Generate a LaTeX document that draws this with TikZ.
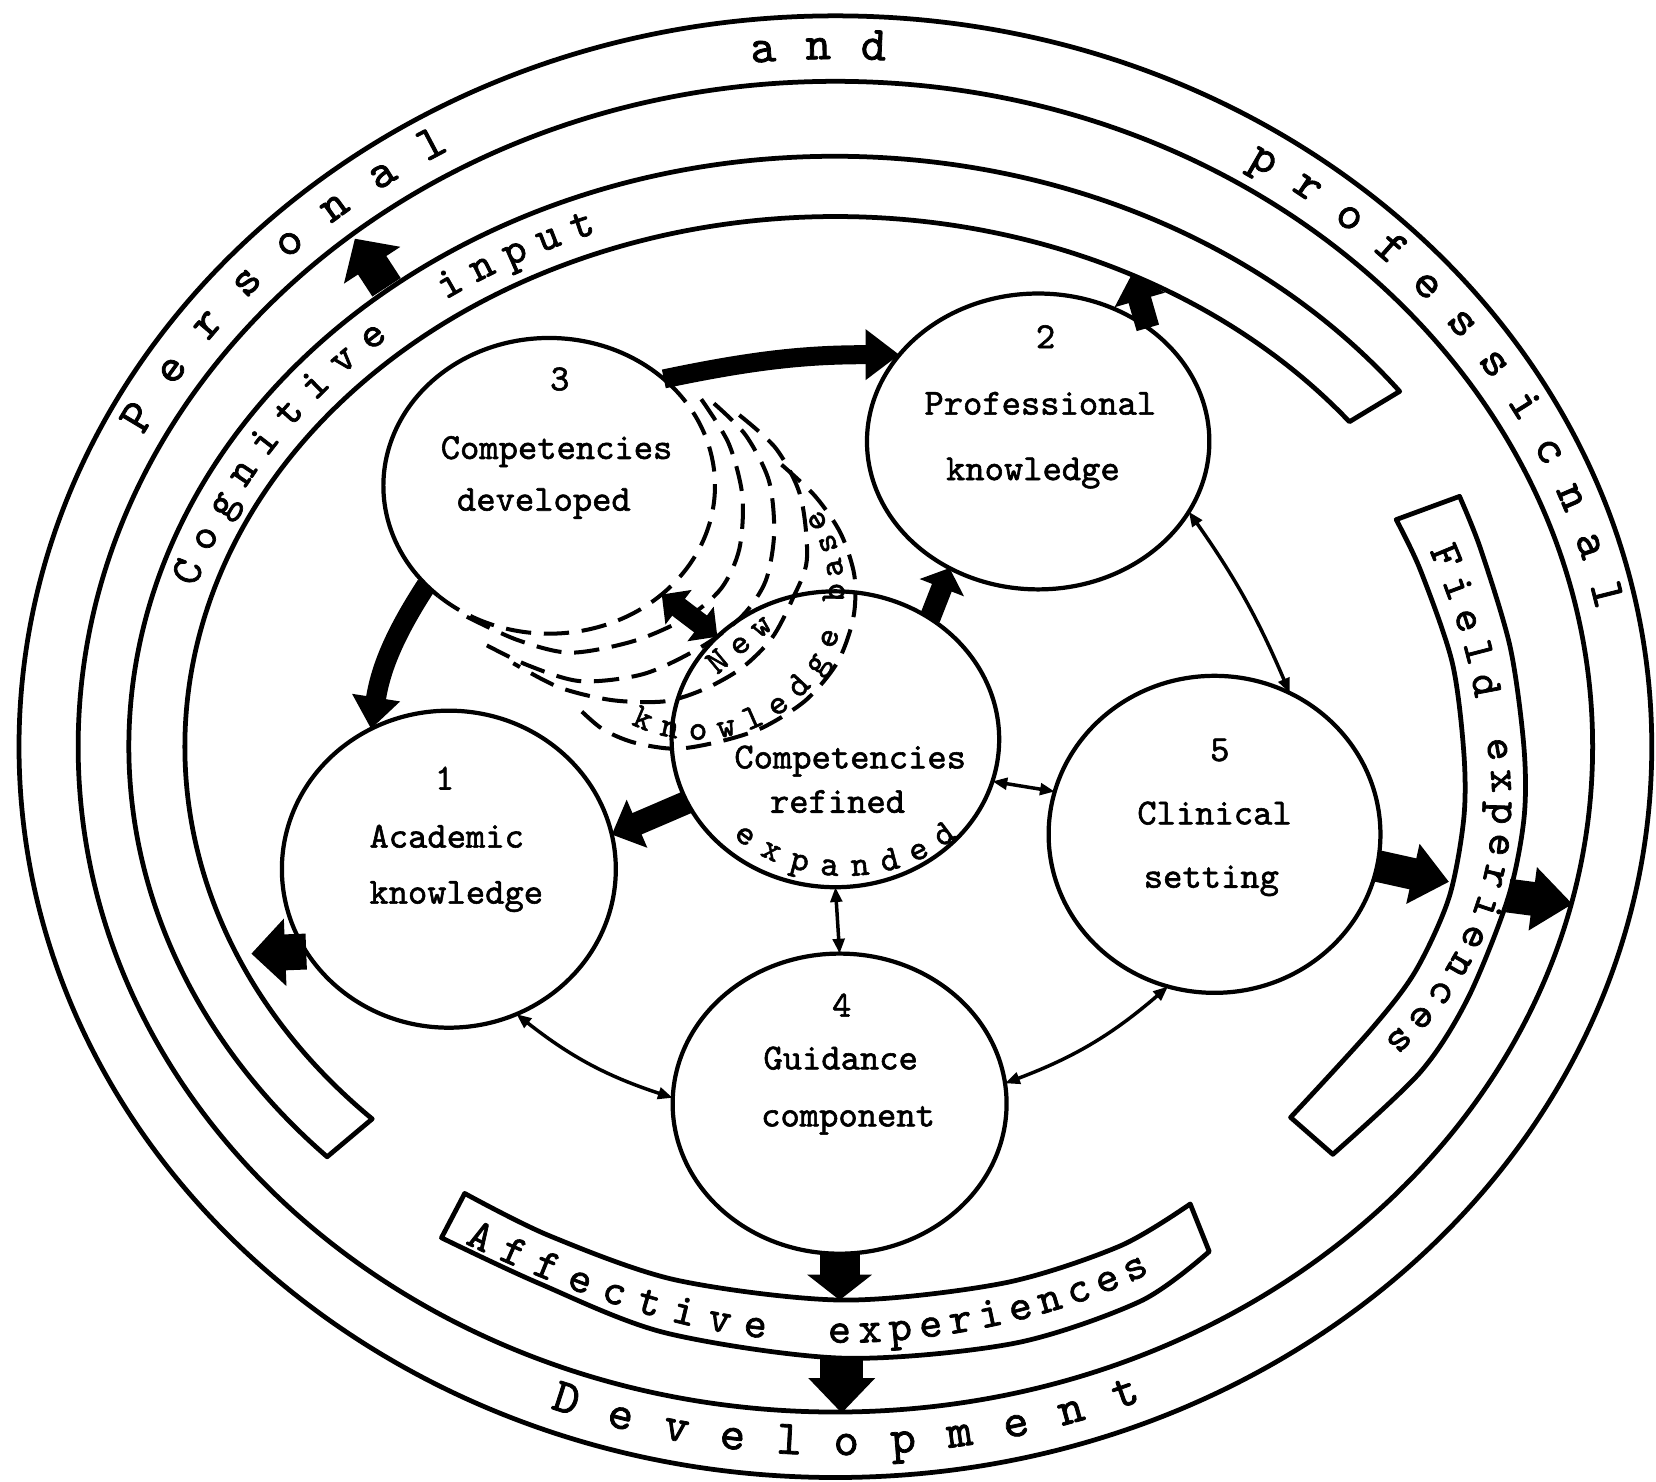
\documentclass[tikz,border=0pt]{standalone}
\usepackage{fontspec}
\usetikzlibrary{shapes.geometric,arrows.meta,decorations.text,calc}
\newfontfamily\tw{lmmono10-regular.otf}[FakeBold=1.6]
\newcommand\ringf{\tw\fontsize{13}{15}\selectfont}
\newcommand\bandf{\tw\fontsize{11.8}{14}\selectfont}
\newcommand\smallf{\tw\fontsize{9.5}{11}\selectfont}

\begin{document}
\begin{tikzpicture}[x=0.01cm,y=0.01cm,line join=round]
\tikzset{
  rim/.style={line width=0.045cm},
  bub/.style={ellipse, draw, line width=0.04cm, inner sep=0pt, outer sep=0pt},
  lbl/.style={font=\tw\fontsize{9.9}{11}\selectfont, anchor=mid, inner sep=0pt},
  fan/.style={line width=0.038cm, dash pattern=on 0.24cm off 0.12cm},
  blk/.style n args={3}{line width=#1, -{Triangle[length=#3 0 0, width=#2 0 0]}},
  blktwo/.style n args={3}{line width=#1, {Triangle[length=#3 0 0, width=#2 0 0]}-{Triangle[length=#3 0 0, width=#2 0 0]}},
  twoway/.style={line width=0.033cm, {Triangle[length=0.14cm 0 0, width=0.11cm 0 0]}-{Triangle[length=0.14cm 0 0, width=0.11cm 0 0]}},
  ringtxt/.style n args={2}{decorate, decoration={text along path, text={#2}, text align=fit to path, raise=#1}},
}
\fill[white] (0,0) rectangle (1568,-1403);
\useasboundingbox (0,0) rectangle (1568,-1403);
\coordinate (O) at (791,-707);

% outer ring: personal and professional development
\draw[rim] (O) ellipse[x radius=773, y radius=692];
\draw[rim] (O) ellipse[x radius=717, y radius=630];
\path[ringtxt={-2.8pt}{|\ringf|Personal}]
  ($(O)+(153:745 and 661)$) arc[start angle=153, end angle=119.8, x radius=745, y radius=661];
\path[ringtxt={-2.8pt}{|\ringf|and}]
  ($(O)+(96.2:745 and 661)$) arc[start angle=96.2, end angle=86.3, x radius=745, y radius=661];
\path[ringtxt={-2.8pt}{|\ringf|professicnal}]
  ($(O)+(58:745 and 661)$) arc[start angle=58, end angle=11.5, x radius=745, y radius=661];
\path[ringtxt={-2.8pt}{|\ringf|Development}]
  ($(O)+(249:745 and 661)$) arc[start angle=249, end angle=292.6, x radius=745, y radius=661];

% cognitive input band
\draw[rim] ($(O)+(37:669 and 559)$) arc[start angle=37, end angle=224, x radius=669, y radius=559]
  -- ($(O)+(224.6:616 and 502)$) arc[start angle=224.6, end angle=37.8, x radius=616, y radius=502] -- cycle;
\path[ringtxt={-2.6pt}{|\bandf|Cognitive}]
  ($(O)+(163.1:642 and 530)$) arc[start angle=163.1, end angle=131.9, x radius=642, y radius=530];
\path[ringtxt={-2.6pt}{|\bandf|input}]
  ($(O)+(125.6:642 and 530)$) arc[start angle=125.6, end angle=110.9, x radius=642, y radius=530];

% field experiences band
\draw[rim] plot[smooth] coordinates {(1322,-492) (1345,-540) (1375,-627) (1386,-712) (1386,-775) (1372,-850) (1340,-920) (1298,-975) (1222,-1058)}
  -- plot[smooth] coordinates {(1262,-1093) (1345,-1015) (1390,-945) (1428,-850) (1443,-775) (1443,-708) (1430,-613) (1402,-520) (1382,-470)} -- cycle;
\coordinate (fc) at (1114.6,-760.6);
\path[ringtxt={-2.6pt}{|\bandf|Field}]
  (1362,-518) .. controls (1380,-560) and (1398,-610) .. (1406,-660);
\path[ringtxt={-2.6pt}{|\bandf|experiences}]
  ($(fc)+(11.6:307.6)$) arc[start angle=11.6, end angle=-48.9, radius=307.6];

% affective experiences band
\draw[rim] plot[smooth] coordinates {(440,-1130) (520,-1170) (640,-1212) (798,-1231) (950,-1215) (1060,-1180) (1127,-1140)}
  -- plot[smooth] coordinates {(1145,-1185) (1080,-1232) (960,-1272) (798,-1286) (630,-1262) (510,-1215) (418,-1172)} -- cycle;
\path[ringtxt={-2.6pt}{|\bandf|Affective}]
  (444,-1169) .. controls (530,-1211) and (640,-1251) .. (726,-1258);
\path[ringtxt={-2.6pt}{|\bandf|experiences}]
  (784,-1262) .. controls (880,-1265) and (1000,-1240) .. (1085,-1197);

% the five components and the core
\node[bub, minimum width=3.16cm, minimum height=3.00cm] (c1) at (425,-823) {};
\node[bub, minimum width=3.24cm, minimum height=2.80cm] (c2) at (983,-418) {};
\node[bub, draw=none, minimum width=3.14cm, minimum height=2.80cm] (c3) at (520,-460) {};
\node[bub, minimum width=3.10cm, minimum height=2.80cm] (cr) at (791,-700) {};
\node[bub, minimum width=3.14cm, minimum height=3.00cm] (c5) at (1150,-790) {};
\node[bub, minimum width=3.16cm, minimum height=2.84cm] (c4) at (795,-1045) {};

% component 3: solid upper part, dashed growth towards the core
\draw[line width=0.04cm] ($(c3.center)+(43:157 and 140)$) arc[start angle=43, end angle=228, x radius=157, y radius=140];
\draw[fan] ($(c3.center)+(228:157 and 140)$) arc[start angle=228, end angle=403, x radius=157, y radius=140];
\draw[fan] plot[smooth] coordinates {(664,-378) (690,-420) (703,-470) (700,-520) (683,-557) (650,-585) (600,-607) (540,-618) (490,-606) (442,-584)};
\draw[fan] plot[smooth] coordinates {(676,-382) (706,-412) (728,-455) (733,-505) (725,-550) (703,-583) (665,-612) (610,-638) (550,-645) (500,-630) (457,-609)};
\draw[fan] plot[smooth] coordinates {(700,-393) (735,-425) (758,-470) (764,-530) (750,-568) (731,-604) (703,-632) (668,-652) (630,-664) (580,-663) (530,-651) (486,-628)};
\draw[fan] plot[smooth] coordinates {(740,-440) (772,-470) (796,-505) (809,-545) (808,-585) (793,-627) (763,-663) (722,-689) (682,-702) (640,-709) (600,-703) (570,-690) (546,-669)};

% labels
\node[lbl] (n3) at (530,-362) {3};
\node[lbl] (t3a) at (527,-427) {Competencies};
\node[lbl] (t3b) at (515,-476) {developed};
\node[lbl] (n2) at (990,-322) {2};
\node[lbl] (t2a) at (985,-385) {Professional};
\node[lbl] (t2b) at (978,-447) {knowledge};
\node[lbl] (n1) at (421,-740) {1};
\node[lbl] (t1a) at (423,-795) {Academic};
\node[lbl] (t1b) at (432,-848) {knowledge};
\node[lbl] (tra) at (805,-720) {Competencies};
\node[lbl] (trb) at (793,-762) {refined};
\node[lbl] (n5) at (1155,-713) {5};
\node[lbl] (t5a) at (1150,-773) {Clinical};
\node[lbl] (t5b) at (1147,-833) {setting};
\node[lbl] (n4) at (797,-955) {4};
\node[lbl] (t4a) at (796,-1005) {Guidance};
\node[lbl] (t4b) at (803,-1059) {component};
\path[ringtxt={-2.1pt}{|\smallf|expanded}]
  ($(800,-697)+(225.5:145 and 125)$) arc[start angle=225.5, end angle=314.5, x radius=145, y radius=125];
\node[lbl, font=\smallf, rotate=40] (tnew) at (701,-611) {N\kern2.5pt e\kern2.5pt w};
\path[ringtxt={-2.1pt}{|\smallf|knowledge}]
  ($(660,-560)+(-116.7:133)$) arc[start angle=-116.7, end angle=-15.8, radius=133];
\path[ringtxt={-2.1pt}{|\smallf|base}]
  ($(660,-560)+(-4.3:132)$) arc[start angle=-4.3, end angle=34.2, radius=132];

% end points on the bands and rings
\coordinate (cogOut) at (366,-272);
\coordinate (perIn1) at (336,-226);
\coordinate (cogIn2) at (1072,-259);
\coordinate (cogIn1) at (238,-903);
\coordinate (fldIn) at (1372,-835);
\coordinate (fldOut) at (1428,-848);
\coordinate (perIn2) at (1489,-856);
\coordinate (affTop) at (795,-1231);
\coordinate (affBot) at (797,-1286);
\coordinate (perIn3) at (797,-1338);

% heavy flows
\draw[blk={0.18cm}{0.46cm}{0.32cm}] (c3.43) to[bend left=6] (c2.148);
\draw[blk={0.19cm}{0.44cm}{0.30cm}] (c3.219) to[bend right=12] (c1.119);
\draw[blk={0.22cm}{0.48cm}{0.26cm}] (cr.203) -- (c1.12);
\draw[blktwo={0.20cm}{0.40cm}{0.20cm}] (cr.139) -- (c3.316);
\draw[blk={0.20cm}{0.44cm}{0.20cm}] (cr.52) -- (c2.235);
\draw[blk={0.22cm}{0.48cm}{0.26cm}] (c2.46) -- (cogIn2);
\draw[blk={0.34cm}{0.62cm}{0.32cm}] (c1.210) -- (cogIn1);
\draw[blk={0.32cm}{0.62cm}{0.30cm}] (cogOut) -- (perIn1);
\draw[blk={0.30cm}{0.56cm}{0.35cm}] (c5.-11) -- (fldIn);
\draw[blk={0.32cm}{0.58cm}{0.38cm}] (fldOut) -- (perIn2);
\draw[blk={0.38cm}{0.60cm}{0.24cm}] (c4.south) -- (affTop);
\draw[blk={0.41cm}{0.61cm}{0.33cm}] (affBot) -- (perIn3);

% two-way links
\draw[twoway] (cr.-15) -- (c5.165);
\draw[twoway] (cr.south) -- (c4.north);
\draw[twoway] (c2.-25) to[bend left=6] (c5.62);
\draw[twoway] (c1.-65) to[bend right=10] (c4.178);
\draw[twoway] (c5.253) to[bend left=10] (c4.7);
\end{tikzpicture}
\end{document}
